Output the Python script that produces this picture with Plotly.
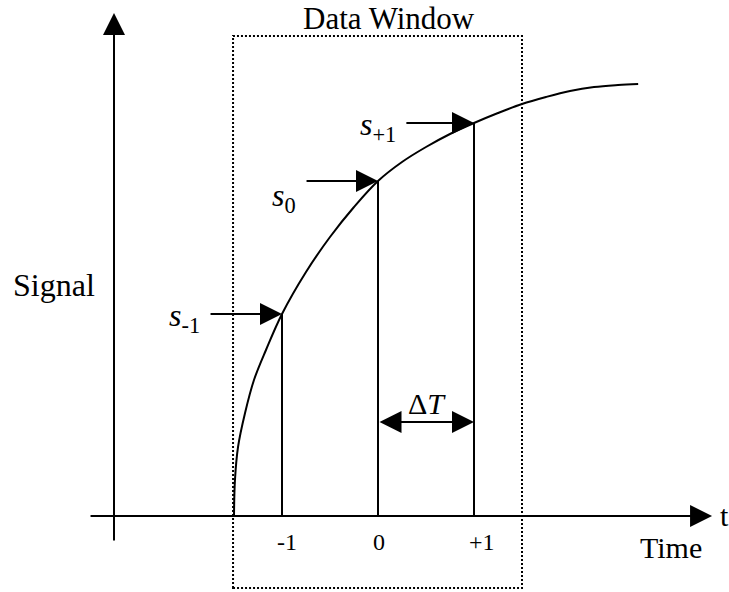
import plotly.graph_objects as go

# Sample instants (in units of the sample spacing ΔT) and their labels
sample_t = [-1.0, 0.0, 1.0]
tick_labels = ["-1", "0", "+1"]
sample_names = ["<i>s</i><sub>-1</sub>", "<i>s</i><sub>0</sub>", "<i>s</i><sub>+1</sub>"]
sample_values = [2.02, 3.35, 3.93]

# Rising signal curve
curve_t = [-1.5, -1.49, -1.458, -1.385, -1.292, -1.167, -1.0, -0.75, -0.5, -0.25,
           0.0, 0.25, 0.5, 0.75, 1.0, 1.25, 1.5, 1.75, 2.0, 2.25, 2.5, 2.71]
curve_s = [0.0, 0.36, 0.69, 1.03, 1.36, 1.66, 2.02, 2.44, 2.79, 3.09,
           3.35, 3.54, 3.69, 3.82, 3.93, 4.03, 4.12, 4.19, 4.25, 4.29, 4.31, 4.32]

# Data window extent
window_t = [-1.51, 1.5]
window_s = [-0.72, 4.80]

# Axis extents
t_axis = [-3.01, 3.48]
s_axis_t = -2.75
s_axis = [-0.26, 5.03]

# Where each sample's pointer arrow starts, and its label offsets
arrow_tail_t = [-1.76, -0.76, 0.28]
label_dy = [-0.03, -0.16, -0.03]

# Level of the ΔT spacing arrow
spacing_s = 0.94

FONT = "Times New Roman, Liberation Serif, serif"
BLACK = "#000000"

fig = go.Figure()

fig.add_trace(go.Scatter(
    x=curve_t, y=curve_s, mode="lines",
    line=dict(color=BLACK, width=2, shape="spline", smoothing=1.0),
    hoverinfo="skip", showlegend=False,
))

shapes = []
# sample lines down to the time axis
for t, s in zip(sample_t, sample_values):
    shapes.append(dict(type="line", xref="x", yref="y", x0=t, x1=t, y0=0, y1=s,
                       line=dict(color=BLACK, width=2)))
# dotted data window
shapes.append(dict(type="rect", xref="x", yref="y",
                   x0=window_t[0], x1=window_t[1], y0=window_s[0], y1=window_s[1],
                   line=dict(color=BLACK, width=2, dash="2px,2px")))

annotations = []


def arrow(x, y, ax, ay, side="end"):
    annotations.append(dict(
        x=x, y=y, ax=ax, ay=ay, xref="x", yref="y", axref="x", ayref="y",
        text="", showarrow=True, arrowhead=2, startarrowhead=2, arrowsize=2.2,
        startarrowsize=2.2, arrowwidth=2, arrowcolor=BLACK, arrowside=side,
        standoff=0, startstandoff=0,
    ))


def label(x, y, text, size=30, xanchor="center", yanchor="middle", xshift=0, yshift=0,
          yref="y"):
    annotations.append(dict(
        x=x, y=y, xref="x", yref=yref, text=text, showarrow=False,
        xanchor=xanchor, yanchor=yanchor, xshift=xshift, yshift=yshift,
        borderpad=0, font=dict(family=FONT, size=size, color=BLACK),
    ))


# axes with arrowheads
arrow(t_axis[1], 0, t_axis[0], 0)
arrow(s_axis_t, s_axis[1], s_axis_t, s_axis[0])

# pointer arrows to each sample
for t, s, tail in zip(sample_t, sample_values, arrow_tail_t):
    arrow(t, s, tail, s)

# ΔT spacing arrow
arrow(sample_t[2], spacing_s, sample_t[1], spacing_s, side="end+start")

# text
label(0.11, 1.0, "Data Window", size=31, yanchor="top", yref="paper")
label(-3.38, 2.31, "Signal", size=32)
label(3.05, -0.31, "Time")
label(3.61, 0.01, "t")
label(0.51, 1.13, "Δ<i>T</i>", size=30)
tick_shift = [5, 1, 8]
for t, txt, dx in zip(sample_t, tick_labels, tick_shift):
    label(t, -0.26, txt, size=24, xshift=dx)
for t, s, tail, name, dy in zip(sample_t, sample_values, arrow_tail_t, sample_names, label_dy):
    label(tail, s + dy, name, size=32, xanchor="right", xshift=-8)

fig.update_layout(
    width=729, height=592,
    margin=dict(l=0, r=0, t=0, b=0),
    paper_bgcolor="white", plot_bgcolor="white",
    xaxis=dict(range=[-3.9375, 3.65625], visible=False, fixedrange=True),
    yaxis=dict(range=[-0.76, 5.16], visible=False, fixedrange=True),
    shapes=shapes, annotations=annotations,
    showlegend=False,
)

fig.write_html("out.html")
